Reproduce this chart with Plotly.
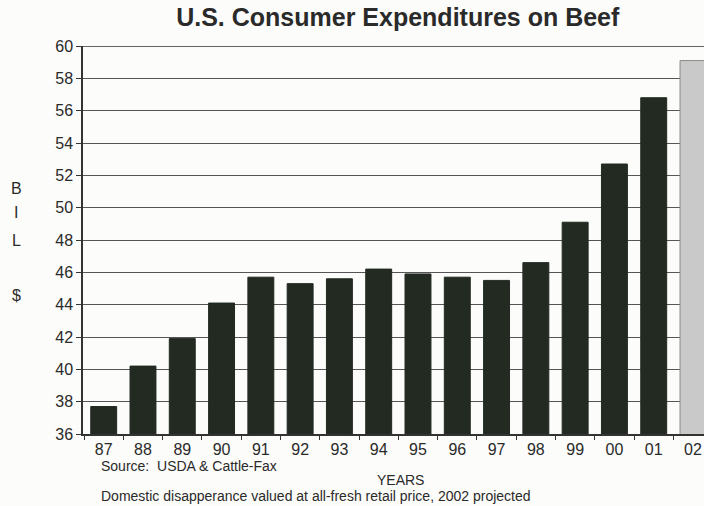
import plotly.graph_objects as go

# U.S. consumer expenditures on beef, billions of dollars (2002 projected)
years = ["87", "88", "89", "90", "91", "92", "93", "94", "95", "96", "97", "98", "99", "00", "01", "02"]
spending = [37.7, 40.2, 41.9, 44.1, 45.7, 45.3, 45.6, 46.2, 45.9, 45.7, 45.5, 46.6, 49.1, 52.7, 56.8, 59.1]
projected = [False] * 15 + [True]

y_ticks = list(range(36, 61, 2))

FONT = "Liberation Sans, Arial, sans-serif"
INK = "#2a2a2a"

bar_colors = ["#c9c9c9" if p else "#222a22" for p in projected]
line_colors = ["#8a8a8a" if p else "#222a22" for p in projected]

fig = go.Figure(
    go.Bar(
        x=years,
        y=spending,
        marker=dict(color=bar_colors, line=dict(color=line_colors, width=1)),
        width=0.66,
    )
)

fig.update_layout(
    width=704,
    height=506,
    margin=dict(l=83, r=0, t=46, b=72),
    paper_bgcolor="#fcfcfa",
    plot_bgcolor="#fcfcfa",
    showlegend=False,
    font=dict(family=FONT, color=INK, size=16),
    title=dict(
        text="<b>U.S. Consumer Expenditures on Beef</b>",
        x=0.565, xanchor="center", y=0.965, yanchor="middle",
        font=dict(family=FONT, size=25, color=INK),
    ),
)

fig.update_xaxes(
    type="category",
    range=[-0.527, 15.28],
    showgrid=False,
    showline=True, linecolor="#333", linewidth=1.5,
    ticks="outside", tickson="boundaries", ticklen=4, tickcolor="#333",
    tickfont=dict(size=16, color=INK),
)
fig.update_yaxes(
    range=[36, 60],
    tickvals=y_ticks,
    showgrid=True, gridcolor="#555", gridwidth=1,
    showline=True, linecolor="#333", linewidth=1.5, mirror=False,
    ticks="outside", ticklen=5, tickcolor="#333",
    tickfont=dict(size=16, color=INK),
    zeroline=False,
)

# top border of the plot frame
fig.add_shape(type="line", xref="paper", yref="y", x0=0, x1=1, y0=60, y1=60,
              line=dict(color="#333", width=1.5))

# vertical axis label written as stacked letters
for txt, ypx in [("B", 188), ("I", 212), ("L", 240), ("$", 295)]:
    fig.add_annotation(text=txt, xref="paper", yref="paper", x=(16 - 83) / 621,
                       y=1 - (ypx - 46) / 388, showarrow=False,
                       font=dict(size=16, color=INK), xanchor="center", yanchor="middle")

fig.add_annotation(text="YEARS", xref="paper", yref="paper", x=(400 - 83) / 621,
                   y=-(480 - 434) / 388, showarrow=False, xanchor="center", yanchor="middle",
                   font=dict(size=14, color=INK))
fig.add_annotation(text="Source:  USDA & Cattle-Fax", xref="paper", yref="paper",
                   x=(99 - 83) / 621, y=-(466 - 434) / 388, showarrow=False,
                   xanchor="left", yanchor="middle", font=dict(size=14, color=INK))
fig.add_annotation(text="Domestic disapperance valued at all-fresh retail price, 2002 projected",
                   xref="paper", yref="paper", x=(99 - 83) / 621, y=-(496 - 434) / 388,
                   showarrow=False, xanchor="left", yanchor="middle",
                   font=dict(size=14, color=INK))

fig.write_html("out.html")
